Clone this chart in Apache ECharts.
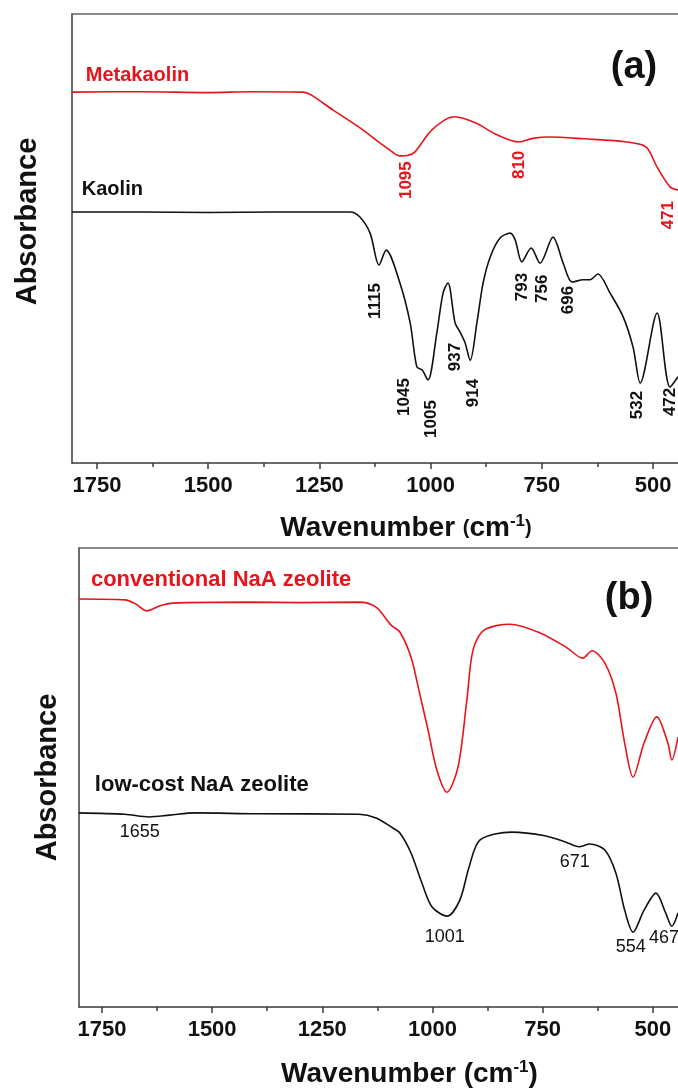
<!DOCTYPE html>
<html>
<head>
<meta charset="utf-8">
<script src="https://cdn.jsdelivr.net/npm/echarts@6/dist/echarts.min.js"></script>
<style>
  html, body { margin: 0; padding: 0; background: #fff; }
  #chart { width: 678px; height: 1090px; }
</style>
</head>
<body>
<div id="chart"></div>
<script>
// ---- data (wavenumber in cm-1, absorbance in a.u.) ----
const metakaolinWn  = [1806, 1650, 1500, 1400, 1287, 1269, 1219, 1161, 1114, 1085, 1069, 1052, 1035, 997, 947, 898, 851, 801, 770, 734, 655, 558, 516, 491, 462, 444];
const metakaolinAbs = [82.6, 82.7, 82.5, 82.7, 82.6, 82.0, 78.6, 74.8, 71.3, 69.2, 68.4, 68.5, 69.3, 74.2, 77.1, 75.7, 73.1, 71.5, 72.3, 72.6, 72.2, 71.5, 70.4, 65.9, 61.5, 60.8];

const kaolinWn  = [1806, 1650, 1500, 1350, 1181, 1159, 1136, 1116, 1100, 1069, 1046, 1031, 1019, 1006, 986, 972, 961, 945, 934, 923, 911, 896, 882, 866, 844, 821, 810, 795, 774, 754, 725, 702, 682, 657, 642, 624, 597, 567, 545, 529, 491, 462, 444];
const kaolinAbs = [55.9, 55.9, 55.8, 55.9, 55.9, 54.8, 51.2, 44.1, 47.4, 40.1, 31.2, 21.4, 20.7, 18.5, 29.0, 37.9, 40.1, 31.2, 29.2, 26.9, 22.9, 31.2, 40.1, 45.9, 50.1, 51.2, 49.7, 44.8, 47.9, 44.5, 50.3, 44.5, 40.3, 40.8, 40.8, 42.1, 37.9, 32.5, 25.8, 17.8, 33.4, 16.9, 19.2];

const conventionalWn  = [1802, 1698, 1673, 1648, 1618, 1589, 1414, 1300, 1167, 1128, 1094, 1074, 1049, 1031, 1010, 990, 967, 942, 922, 908, 883, 824, 756, 697, 659, 638, 609, 584, 564, 545, 520, 491, 466, 457, 443];
const conventionalAbs = [88.9, 88.7, 87.8, 86.3, 87.4, 88.0, 88.2, 88.1, 88.2, 87.1, 83.2, 81.7, 76.3, 69.1, 60.3, 51.6, 46.8, 52.3, 66.9, 77.8, 82.1, 83.4, 81.5, 78.4, 76.0, 77.6, 74.9, 68.4, 57.5, 50.1, 57.5, 63.2, 57.5, 53.8, 58.8];

const lowCostWn  = [1802, 1698, 1643, 1596, 1539, 1400, 1167, 1128, 1090, 1074, 1049, 1024, 1001, 967, 938, 917, 892, 820, 745, 697, 668, 643, 609, 584, 564, 545, 520, 493, 471, 457, 443];
const lowCostAbs = [42.3, 42.0, 41.4, 41.8, 42.3, 42.1, 42.0, 41.2, 39.0, 37.9, 33.6, 27.0, 21.8, 19.8, 23.3, 30.5, 36.4, 38.1, 37.3, 35.9, 34.9, 35.5, 34.2, 29.2, 21.1, 16.3, 21.1, 24.8, 20.5, 17.6, 20.5];

const tickValues      = [1750, 1500, 1250, 1000, 750, 500];
const minorTickValues = [1625, 1375, 1125, 875, 625];

// peak annotations: text, anchor wavenumber, anchor absorbance
const redPeakText = ['1095', '810', '471'];
const redPeakWn   = [1055, 801, 466];
const redPeakAbs  = [63.0, 66.4, 55.2];

const kaolinPeakText = ['1115', '793', '756', '696', '937', '1045', '1005', '914', '532', '472'];
const kaolinPeakWn   = [1125, 795, 750, 691, 945, 1060, 999, 905, 536, 462];
const kaolinPeakAbs  = [36.1, 39.2, 38.8, 36.3, 23.6, 14.7, 9.8, 15.6, 12.9, 13.6];

const zeolitePeakText = ['1655', '1001', '671', '554', '467'];
const zeolitePeakWn   = [1664, 972, 677, 550, 475];
const zeolitePeakAbs  = [38.1, 15.3, 31.6, 13.1, 15.0];

const sampleNamesA = ['Metakaolin', 'Kaolin'];
const sampleNamesB = ['conventional NaA zeolite', 'low-cost NaA zeolite'];

const RED = '#e8141c';
const INK = '#111';
const FONT = '"Liberation Sans", Arial, Helvetica, sans-serif';
const FRAME = '#3a3a3a';

const zip = (xs, ys) => xs.map((x, i) => [x, ys[i]]);
const labelled = (xs, ys, ts) => xs.map((x, i) => [x, ys[i], ts[i]]);

const chart = echarts.init(document.getElementById('chart'));

// x axes for one panel: main bottom axis, minor ticks, top border
function panelXAxes(gridIndex, min, max, nameGap) {
    const base = {
        gridIndex: gridIndex,
        type: 'value',
        min: min,
        max: max,
        inverse: true,
        splitLine: { show: false }
    };
    return [
        Object.assign({}, base, {
            position: 'bottom',
            name: '{w|Wavenumber }{p|(}{w|cm}{s|-1}{p|)}',
            nameLocation: 'middle',
            nameGap: nameGap,
            nameTextStyle: {
                padding: [0, 0, 0, 62],
                rich: {
                    w: { fontFamily: FONT, fontWeight: 'bold', fontSize: 28, color: INK },
                    p: { fontFamily: FONT, fontWeight: 'bold', fontSize: gridIndex === 0 ? 20 : 28, color: INK },
                    s: { fontFamily: FONT, fontWeight: 'bold', fontSize: 17, color: INK, verticalAlign: 'top', padding: [0, 0, 14, 0] }
                }
            },
            axisLine: { show: true, lineStyle: { color: FRAME, width: 1.5 } },
            axisTick: { show: true, inside: false, length: 6, lineStyle: { color: FRAME, width: 1.5 }, customValues: tickValues },
            axisLabel: {
                show: true, margin: 12, customValues: tickValues,
                formatter: v => String(v),
                fontFamily: FONT, fontWeight: 'bold', fontSize: 22, color: INK
            }
        }),
        Object.assign({}, base, {
            position: 'bottom',
            axisLine: { show: false },
            axisTick: { show: true, inside: false, length: 4, lineStyle: { color: FRAME, width: 1.5 }, customValues: minorTickValues },
            axisLabel: { show: false }
        }),
        Object.assign({}, base, {
            position: 'top',
            axisLine: { show: true, lineStyle: { color: '#666', width: 1.5 } },
            axisTick: { show: false },
            axisLabel: { show: false }
        })
    ];
}

function panelYAxis(gridIndex, nameGap, padBottom) {
    return {
        gridIndex: gridIndex,
        type: 'value',
        min: 0,
        max: 100,
        name: 'Absorbance',
        nameLocation: 'middle',
        nameGap: nameGap,
        nameTextStyle: { fontFamily: FONT, fontWeight: 'bold', fontSize: 29, color: INK, padding: [0, 0, 0, padBottom] },
        axisLine: { show: true, lineStyle: { color: FRAME, width: 1.5 } },
        axisTick: { show: false },
        axisLabel: { show: false },
        splitLine: { show: false }
    };
}

function curve(name, xi, yi, data, color) {
    return {
        name: name,
        type: 'line',
        xAxisIndex: xi,
        yAxisIndex: yi,
        data: data,
        smooth: 0.3,
        symbol: 'none',
        lineStyle: { color: color, width: 1.6 },
        z: 3
    };
}

function textMarks(xi, yi, data, style) {
    return {
        type: 'scatter',
        xAxisIndex: xi,
        yAxisIndex: yi,
        data: data,
        symbolSize: 0,
        silent: true,
        clip: false,
        itemStyle: { color: 'transparent', opacity: 1 },
        label: Object.assign({
            show: true,
            formatter: p => p.value[2],
            fontFamily: FONT,
            textBorderWidth: 0,
            textBorderColor: 'transparent'
        }, style),
        z: 5
    };
}

const option = {
    backgroundColor: '#fff',
    animation: false,
    grid: [
        { left: 72, top: 14, width: 606, height: 449 },
        { left: 79, top: 548, width: 599, height: 459 }
    ],
    xAxis: [].concat(panelXAxes(0, 444, 1806, 50), panelXAxes(1, 443, 1802, 52)),
    yAxis: [panelYAxis(0, 30, 34), panelYAxis(1, 17, 0)],
    series: [
        curve('Metakaolin', 0, 0, zip(metakaolinWn, metakaolinAbs), RED),
        curve('Kaolin', 0, 0, zip(kaolinWn, kaolinAbs), INK),
        curve('conventional NaA zeolite', 3, 1, zip(conventionalWn, conventionalAbs), RED),
        curve('low-cost NaA zeolite', 3, 1, zip(lowCostWn, lowCostAbs), INK),

        // sample names
        textMarks(0, 0, [[1775, 86.4, sampleNamesA[0]]],
            { position: 'right', distance: 0, color: RED, fontWeight: 'bold', fontSize: 20 }),
        textMarks(0, 0, [[1784, 61.0, sampleNamesA[1]]],
            { position: 'right', distance: 0, color: INK, fontWeight: 'bold', fontSize: 20 }),
        textMarks(3, 1, [[1775, 93.0, sampleNamesB[0]]],
            { position: 'right', distance: 0, color: RED, fontWeight: 'bold', fontSize: 22 }),
        textMarks(3, 1, [[1766, 48.4, sampleNamesB[1]]],
            { position: 'right', distance: 0, color: INK, fontWeight: 'bold', fontSize: 22 }),

        // panel letters
        textMarks(0, 0, [[543, 88.0, '(a)']],
            { position: 'inside', color: INK, fontWeight: 'bold', fontSize: 38 }),
        textMarks(3, 1, [[554, 89.1, '(b)']],
            { position: 'inside', color: INK, fontWeight: 'bold', fontSize: 38 }),

        // peak positions
        textMarks(0, 0, labelled(redPeakWn, redPeakAbs, redPeakText),
            { position: 'inside', rotate: 90, color: RED, fontWeight: 'bold', fontSize: 17 }),
        textMarks(0, 0, labelled(kaolinPeakWn, kaolinPeakAbs, kaolinPeakText),
            { position: 'inside', rotate: 90, color: INK, fontWeight: 'bold', fontSize: 17 }),
        textMarks(3, 1, labelled(zeolitePeakWn, zeolitePeakAbs, zeolitePeakText),
            { position: 'inside', color: INK, fontSize: 18 })
    ]
};

chart.setOption(option);
</script>
</body>
</html>
